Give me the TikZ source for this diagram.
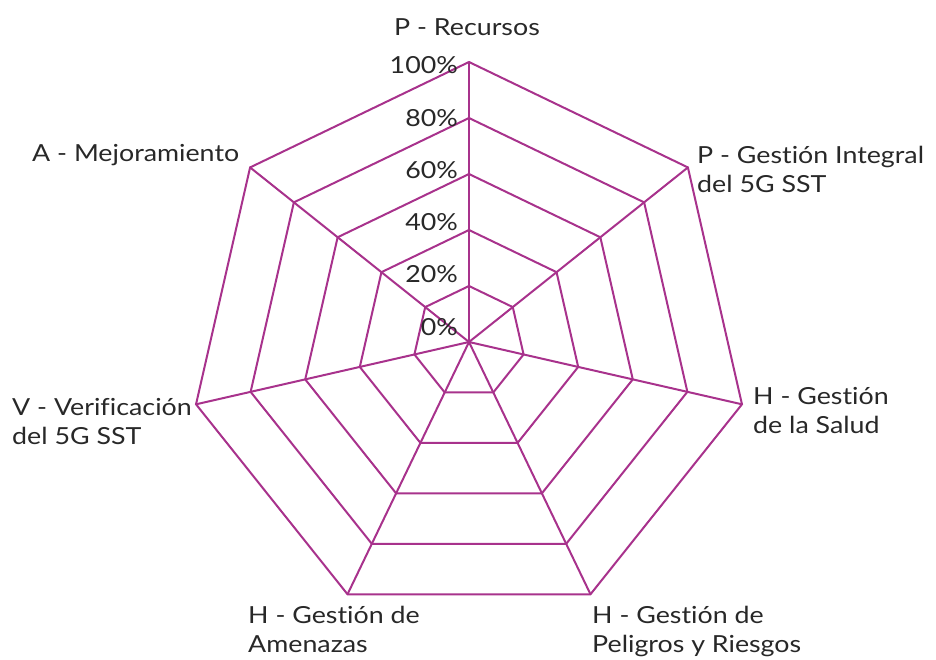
\documentclass[tikz,border=0pt]{standalone}
\usepackage{fontspec}
\setmainfont[FakeStretch=1.14, Ligatures={NoCommon,NoDiscretionary,NoContextual}]{Lato}
\usepackage{tikz}
\definecolor{webline}{RGB}{168,50,140}
\definecolor{labeltext}{RGB}{40,40,40}

\tikzset{
    web/.style={draw=webline, line width=2pt, line join=miter},
    axislabel/.style={text=labeltext, font=\fontsize{23.5}{29}\selectfont, inner sep=0pt, align=left},
    pctlabel/.style={text=labeltext, font=\fontsize{23.5}{29}\selectfont, inner sep=0pt, anchor=base east}
}

\begin{document}
\begin{tikzpicture}[x=1pt,y=1pt]
            \useasboundingbox (-469,-317) rectangle (467,342);
            % corners of the five rings, 7 axes
            \coordinate (c) at (0,0);
            \foreach \r in {1,...,5}
                \foreach \k in {0,...,6}
                    \coordinate (v\r-\k) at ({90-\k*360/7}:{56*\r});
            % rings
            \foreach \r in {1,...,5}
                \draw[web] (v\r-0) -- (v\r-1) -- (v\r-2) -- (v\r-3)
                    -- (v\r-4) -- (v\r-5) -- (v\r-6) -- cycle;
            % spokes
            \foreach \k in {0,...,6}
                \draw[web] (c) -- (v5-\k);
            % scale
            \foreach \p [count=\i from 0] in {0,20,40,60,80,100}
                \node[pctlabel] (pct\p) at (-11,{7+52.2*\i}) {\p\%};
            % axis names (base = last line)
            \node[axislabel, anchor=base] (recursos) at (-2,306) {P - Recursos};
            \node[axislabel, anchor=base west] (integral) at (228,150)
                {P - Gestión Integral\\del 5G SST};
            \node[axislabel, anchor=base west] (salud) at (284,-91)
                {H - Gestión\\de la Salud};
            \node[axislabel, anchor=base west] (peligros) at (123,-310)
                {H - Gestión de\\Peligros y Riesgos};
            \node[axislabel, anchor=base west] (amenazas) at (-221,-310)
                {H - Gestión de\\Amenazas};
            \node[axislabel, anchor=base west] (verif) at (-457,-102)
                {V - Verificación\\del 5G SST};
            \node[axislabel, anchor=base west] (mejora) at (-437,180) {A - Mejoramiento};
        \end{tikzpicture}
\end{document}
